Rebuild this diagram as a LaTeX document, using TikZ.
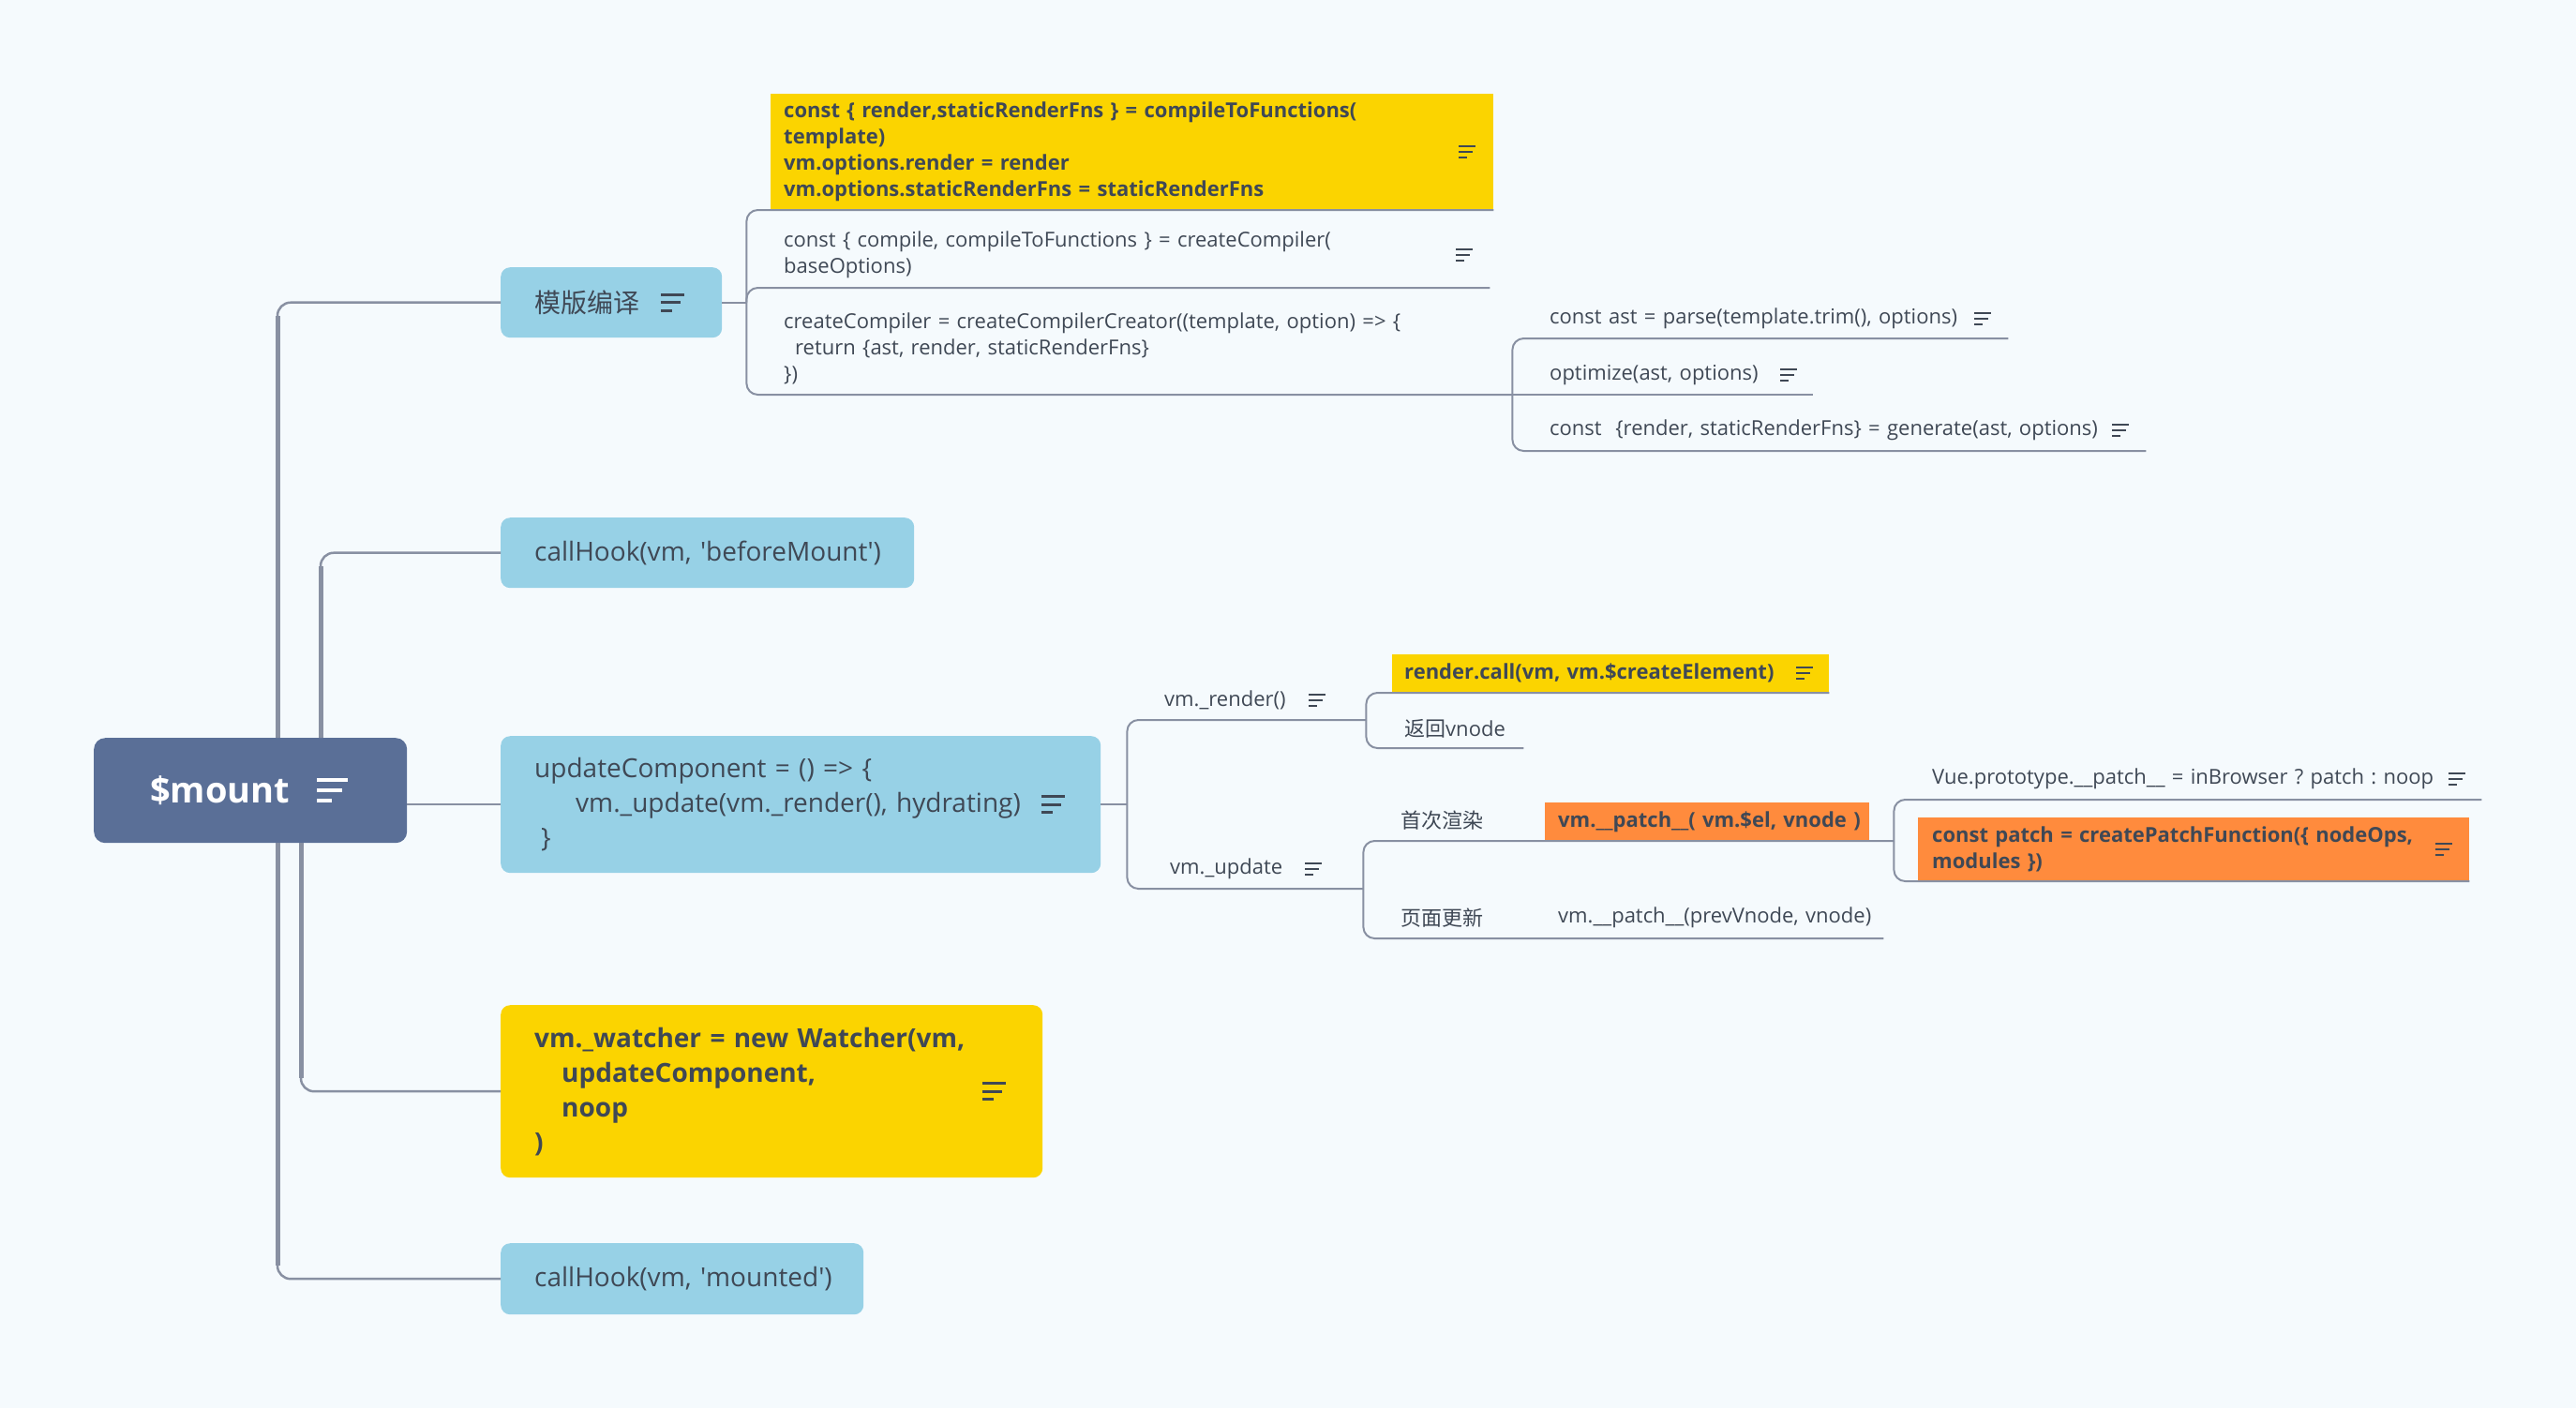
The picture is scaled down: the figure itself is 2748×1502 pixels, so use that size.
\documentclass[tikz,border=0pt]{standalone}
\usepackage{fontspec}
\setmainfont{Open Sans}
\newfontfamily\cjk{Noto Sans CJK SC}
\usetikzlibrary{positioning, calc}

\definecolor{bgc}{HTML}{F5FAFD}
\definecolor{linec}{HTML}{8890A2}
\definecolor{textc}{HTML}{3F4855}
\definecolor{mountc}{HTML}{5A6F97}
\definecolor{bluec}{HTML}{97D1E6}
\definecolor{yellowc}{HTML}{FBD400}
\definecolor{orangec}{HTML}{FF8B3D}

\newcommand{\bigfont}{\fontsize{28pt}{37pt}\selectfont}
\newcommand{\smallfont}{\fontsize{22pt}{28pt}\selectfont}
\newcommand{\sq}{\textquotesingle}
\frenchspacing

\tikzset{
  notes/.pic={
    \draw (-9,-6) -- (9,-6);
    \draw (-9,0) -- (6,0);
    \draw (-9,6) -- (0,6);
  },
  topic/.style={anchor=north west, inner xsep=36pt, inner ysep=0pt, align=left, rounded corners=10pt, text=textc, font=\bigfont},
  subtopic/.style={anchor=south west, inner sep=0pt, align=left, text=textc, font=\smallfont},
  codebox/.style={anchor=south west, inner ysep=0pt, align=left, text=textc, font=\smallfont\bfseries},
  trunk/.style={draw=linec, line width=2.5pt, rounded corners=14pt},
  stem/.style={draw=linec, line width=5pt},
  branch/.style={draw=linec, line width=2pt, rounded corners=12pt},
  icon/.style={textc, line width=2pt},
}

\begin{document}
\begin{tikzpicture}[x=1pt, y=-1pt]
    \fill[bgc] (0,0) rectangle (2748,1502);

    % Root
    \node[topic, fill=mountc, text=white, inner xsep=60pt, text width=214pt, minimum height=112pt, rounded corners=12pt, font=\fontsize{38pt}{44pt}\selectfont\bfseries] (mount) at (100,787) {\$mount};
    \pic[icon, white, scale=1.8, line width=4pt] at ([xshift=-80pt]mount.east) {notes};

    % Main topics
    \node[topic, fill=bluec, text width=164pt, minimum height=75pt] (tmpl) at (534,285) {{\cjk 模版编译}};
    \node[topic, fill=bluec, text width=369pt, minimum height=75pt] (before) at (534,552) {\mbox{callHook(vm, \sq beforeMount\sq)}};
    \node[topic, fill=bluec, text width=568pt, minimum height=146pt] (update) at (534,785) {updateComponent = () => \{\\\hspace*{44pt}vm.\_update(vm.\_render(), hydrating)\\\hspace*{7pt}\}};
    \node[topic, fill=yellowc, text width=506pt, minimum height=184pt, font=\bigfont\bfseries] (watcher) at (534,1072) {vm.\_watcher = new Watcher(vm,\\\hspace*{29pt}updateComponent,\\\hspace*{29pt}noop\\)};
    \node[topic, fill=bluec, text width=315pt, minimum height=76pt] (mounted) at (534,1326) {\mbox{callHook(vm, \sq mounted\sq)}};
    \pic[icon, scale=1.4, line width=3pt] at ([xshift=-53pt]tmpl.east) {notes};
    \pic[icon, scale=1.4, line width=3pt] at ([xshift=-51pt]update.east) {notes};
    \pic[icon, scale=1.4, line width=3pt] at ([xshift=-52pt]watcher.east) {notes};

    % Template compile branch
    \node[codebox, fill=yellowc, inner xsep=14pt, text width=743pt, minimum height=124pt] (ctf) at (822,224) {const \{ render,staticRenderFns \} = compileToFunctions(\\template)\\vm.options.render = render\\vm.options.staticRenderFns = staticRenderFns};
    \node[subtopic, text width=753pt, minimum height=70pt] (cc) at (836,307) {const \{ compile, compileToFunctions \} = createCompiler(\\baseOptions)};
    \node[subtopic, text width=777pt, minimum height=98pt] (ccc) at (836,421) {createCompiler = createCompilerCreator((template, option) => \{\\\hspace*{12pt}return \{ast, render, staticRenderFns\}\\\})};
    \node[subtopic, text width=489pt, minimum height=42pt] (parse) at (1653,361) {const ast = parse(template.trim(), options)};
    \node[subtopic, text width=281pt, minimum height=42pt] (optim) at (1653,421) {optimize(ast, options)};
    \node[subtopic, text width=636pt, minimum height=44pt] (gen) at (1653,481) {const\ \ \{render, staticRenderFns\} = generate(ast, options)};
    \pic[icon] at ([xshift=-28pt]ctf.east) {notes};
    \pic[icon] at ([xshift=-27pt]cc.east) {notes};
    \pic[icon] at ([xshift=-27pt]parse.east) {notes};
    \pic[icon] at ([xshift=-26pt]optim.east) {notes};
    \pic[icon] at ([xshift=-27pt]gen.east) {notes};

    % Update component branch
    \node[subtopic, text width=215pt, minimum height=42pt] (render) at (1242,768) {vm.\_render()};
    \node[subtopic, text width=206pt, minimum height=42pt] (upd) at (1248,948) {vm.\_update};
    \node[codebox, fill=yellowc, inner xsep=13pt, text width=440pt, minimum height=41pt] (rcall) at (1485,739) {\mbox{render.call(vm, vm.\$createElement)}};
    \node[subtopic, text width=127pt, minimum height=42pt] (retv) at (1498,798) {{\cjk 返回}vnode};
    \node[subtopic, text width=154pt, minimum height=44pt] (first) at (1494,897) {{\cjk 首次渲染}};
    \node[codebox, fill=orangec, inner xsep=14pt, text width=318pt, minimum height=41pt] (patch1) at (1648,897) {\mbox{vm.\_\_patch\_\_( vm.\$el, vnode )}};
    \node[subtopic, text width=154pt, minimum height=44pt] (page) at (1494,1001) {{\cjk 页面更新}};
    \node[subtopic, text width=347pt, minimum height=44pt] (patch2) at (1662,1001) {\mbox{vm.\_\_patch\_\_(prevVnode, vnode)}};
    \node[subtopic, text width=586pt, minimum height=44pt] (vueproto) at (2061,853) {Vue.prototype.\_\_patch\_\_ = inBrowser ? patch : noop};
    \node[codebox, fill=orangec, inner xsep=15pt, text width=558pt, minimum height=68pt] (cpatch) at (2046,940) {const patch = createPatchFunction(\{ nodeOps,\\modules \})};
    \pic[icon] at ([xshift=-52pt]render.east) {notes};
    \pic[icon] at ([xshift=-53pt]upd.east) {notes};
    \pic[icon] at ([xshift=-26pt]rcall.east) {notes};
    \pic[icon] at ([xshift=-26pt]vueproto.east) {notes};
    \pic[icon] at ([xshift=-27pt]cpatch.east) {notes};

    % Trunk lines from the root
    \coordinate (s1) at ([xshift=196pt]mount.north west);
    \coordinate (s2) at ([xshift=242pt]mount.north west);
    \coordinate (s3) at ([xshift=221pt]mount.south west);
    \coordinate (s4) at ([xshift=196pt]mount.south west);
    \draw[trunk] (s1) |- (tmpl.west);
    \draw[trunk] (s2) |- (before.west);
    \draw[trunk] (mount.east |- update.west) -- (update.west);
    \draw[trunk] (s3) |- (watcher.west);
    \draw[trunk] (s4) |- (mounted.west);
    \draw[stem, shorten >=14pt] (s1) -- (s1 |- tmpl.west);
    \draw[stem, shorten >=14pt] (s2) -- (s2 |- before.west);
    \draw[stem, shorten >=14pt] (s3) -- (s3 |- watcher.west);
    \draw[stem, shorten >=14pt] (s4) -- (s4 |- mounted.west);

    % Branches of the template compile
    \coordinate (f1) at ([xshift=26pt]tmpl.east);
    \draw[branch] (tmpl.east) -- (f1);
    \draw[branch] (f1) |- (ctf.south east);
    \draw[branch] (f1) |- (cc.south east);
    \draw[branch] (f1) |- (ccc.south east);
    \draw[branch] (ccc.south east) |- (parse.south east);
    \draw[branch] (ccc.south east) -- (optim.south east);
    \draw[branch] (ccc.south east) |- (gen.south east);

    % Branches of updateComponent
    \coordinate (f3) at ([xshift=28pt]update.east);
    \coordinate (f6) at ([xshift=26pt]patch1.south east);
    \draw[branch] (update.east) -- (f3);
    \draw[branch] (f3) |- (render.south east);
    \draw[branch] (f3) |- (upd.south east);
    \draw[branch] (render.south east) |- (rcall.south east);
    \draw[branch] (render.south east) |- (retv.south east);
    \draw[branch] (upd.south east) |- (first.south east) -- (patch1.south east) -- (f6);
    \draw[branch] (upd.south east) |- (page.south east) -- (patch2.south east);
    \draw[branch] (f6) |- (vueproto.south east);
    \draw[branch] (f6) |- (cpatch.south east);
\end{tikzpicture}
\end{document}
